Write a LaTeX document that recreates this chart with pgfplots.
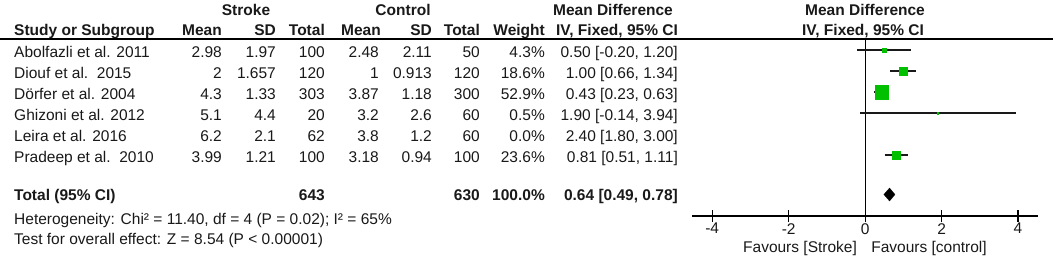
\documentclass[border=0pt]{standalone}
\usepackage{pgfplots}
\pgfplotsset{compat=1.18}
\usepackage{fontspec}
\setmainfont{Liberation Sans}
\definecolor{mdgreen}{RGB}{0,192,0}
\definecolor{txt}{RGB}{25,25,25}
\newcommand{\R}[3]{\node[anchor=base east,inner sep=0] at ({#1bp},{(258-#2)*1bp}) {#3};}
\newcommand{\Lf}[3]{\node[anchor=base west,inner sep=0] at ({#1bp},{(258-#2)*1bp}) {#3};}
\newcommand{\C}[3]{\node[anchor=base,inner sep=0] at ({#1bp},{(258-#2)*1bp}) {#3};}
\begin{document}
\fontsize{15.5bp}{18bp}\selectfont
\begin{tikzpicture}[x=1bp,y=1bp,text=txt]
\useasboundingbox (0,0) rectangle (1053,258);
% header
\C{246}{15.5}{\bfseries Stroke}
\C{403}{15.5}{\bfseries Control}
\C{613}{15.5}{\bfseries Mean Difference}
\C{865}{15.5}{\bfseries Mean Difference}
\Lf{14}{35}{\bfseries Study or Subgroup}
\R{222}{35}{\bfseries Mean}
\R{276}{35}{\bfseries SD}
\R{325}{35}{\bfseries Total}
\R{381}{35}{\bfseries Mean}
\R{432}{35}{\bfseries SD}
\R{480}{35}{\bfseries Total}
\R{545}{35}{\bfseries Weight}
\C{617}{35}{\bfseries IV, Fixed, 95\% CI}
\C{863}{35}{\bfseries IV, Fixed, 95\% CI}
\draw[line width=1.3bp] (0,219) -- (1053,219);
% rows
\Lf{14}{57.5}{Abolfazli et al. 2011}
\R{222}{57.5}{2.98}\R{276}{57.5}{1.97}\R{325}{57.5}{100}\R{379}{57.5}{2.48}\R{432}{57.5}{2.11}\R{480}{57.5}{50}\R{545}{57.5}{4.3\%}\R{678}{57.5}{0.50 [-0.20, 1.20]}
\Lf{14}{78.5}{Diouf et al.\ \ 2015}
\R{222}{78.5}{2}\R{276}{78.5}{1.657}\R{325}{78.5}{120}\R{379}{78.5}{1}\R{432}{78.5}{0.913}\R{480}{78.5}{120}\R{545}{78.5}{18.6\%}\R{678}{78.5}{1.00 [0.66, 1.34]}
\Lf{14}{99.5}{Dörfer et al. 2004}
\R{222}{99.5}{4.3}\R{276}{99.5}{1.33}\R{325}{99.5}{303}\R{379}{99.5}{3.87}\R{432}{99.5}{1.18}\R{480}{99.5}{300}\R{545}{99.5}{52.9\%}\R{678}{99.5}{0.43 [0.23, 0.63]}
\Lf{14}{120.5}{Ghizoni et al. 2012}
\R{222}{120.5}{5.1}\R{276}{120.5}{4.4}\R{325}{120.5}{20}\R{379}{120.5}{3.2}\R{432}{120.5}{2.6}\R{480}{120.5}{60}\R{545}{120.5}{0.5\%}\R{678}{120.5}{1.90 [-0.14, 3.94]}
\Lf{14}{141.5}{Leira et al. 2016}
\R{222}{141.5}{6.2}\R{276}{141.5}{2.1}\R{325}{141.5}{62}\R{379}{141.5}{3.8}\R{432}{141.5}{1.2}\R{480}{141.5}{60}\R{545}{141.5}{0.0\%}\R{678}{141.5}{2.40 [1.80, 3.00]}
\Lf{14}{162.5}{Pradeep et al.\ \ 2010}
\R{222}{162.5}{3.99}\R{276}{162.5}{1.21}\R{325}{162.5}{100}\R{379}{162.5}{3.18}\R{432}{162.5}{0.94}\R{480}{162.5}{100}\R{545}{162.5}{23.6\%}\R{678}{162.5}{0.81 [0.51, 1.11]}
\Lf{14}{200.5}{\bfseries Total (95\% CI)}
\R{325}{200.5}{\bfseries 643}\R{480}{200.5}{\bfseries 630}\R{545}{200.5}{\bfseries 100.0\%}\R{678}{200.5}{\bfseries 0.64 [0.49, 0.78]}
\Lf{14}{224.5}{Heterogeneity: Chi² = 11.40, df = 4 (P = 0.02); I² = 65\%}
\Lf{14}{244.5}{Test for overall effect: Z = 8.54 (P < 0.00001)}
\C{800}{252.5}{Favours [Stroke]}
\C{929}{252.5}{Favours [control]}
\begin{axis}[
  at={(692.3bp,42bp)}, anchor=south west,
  scale only axis, width=345.6bp, height=177bp,
  xmin=-4.52, xmax=4.52, ymin=42, ymax=219,
  clip=false,
  axis x line*=bottom, axis y line=none,
  axis line style={line width=1.2bp, black},
  xtick={-4,-2,0,2,4}, xticklabels={-4,-2,0,2,4},
  major tick length=12bp, tick align=center,
  tick style={line width=1.2bp, black},
  xticklabel style={font=\fontsize{15.5bp}{18bp}\selectfont, text=txt, inner sep=1bp},
  ytick=\empty,
]
\addplot[black, line width=1.2bp] coordinates {(0,42) (0,219)};
% CIs
\addplot[txt, line width=1.2bp] coordinates {(-0.20,208) (1.20,208)};
\addplot[txt, line width=1.2bp] coordinates {(0.66,187) (1.34,187)};
\addplot[txt, line width=1.2bp] coordinates {(0.23,166) (0.63,166)};
\addplot[txt, line width=1.2bp] coordinates {(-0.14,145) (3.94,145)};
\addplot[txt, line width=1.2bp] coordinates {(0.51,103) (1.11,103)};
% squares
\addplot[only marks, mark=square*, mark size=1.9bp, mark options={fill=mdgreen, draw=mdgreen, line width=0.2bp}] coordinates {(0.50,208)};
\addplot[only marks, mark=square*, mark size=3.9bp, mark options={fill=mdgreen, draw=mdgreen, line width=0.2bp}] coordinates {(1.00,187)};
\addplot[only marks, mark=square*, mark size=6.7bp, mark options={fill=mdgreen, draw=mdgreen, line width=0.2bp}] coordinates {(0.43,166)};
\addplot[only marks, mark=square*, mark size=0.8bp, mark options={fill=mdgreen, draw=mdgreen, line width=0.2bp}] coordinates {(1.90,145)};
\addplot[only marks, mark=square*, mark size=4.4bp, mark options={fill=mdgreen, draw=mdgreen, line width=0.2bp}] coordinates {(0.81,103)};
% diamond
\addplot[fill=black, draw=black, line width=0.3bp] coordinates {(0.49,63.5) (0.64,70) (0.78,63.5) (0.64,57)} -- cycle;
\end{axis}
\end{tikzpicture}
\end{document}
